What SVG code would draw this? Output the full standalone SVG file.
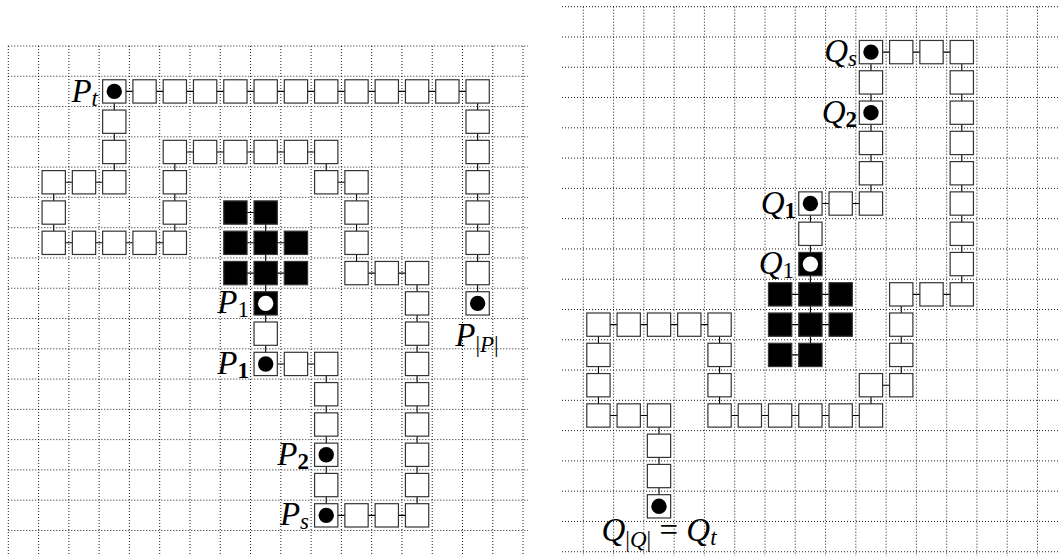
<svg xmlns="http://www.w3.org/2000/svg" xmlns:xlink="http://www.w3.org/1999/xlink" width="1059" height="556" viewBox="0 0 1059 556">
<style>
.grid{fill:none;stroke:#000;stroke-width:0.9;stroke-dasharray:1 2}
.conn{fill:none;stroke:#000;stroke-width:1.1}
.lbl{font-family:"Liberation Serif",serif;font-style:italic;font-size:33px;fill:#000}
.sub{font-size:23px}
.up{font-style:normal}
.bf{font-weight:bold;font-style:normal}
</style>
<defs>
<rect id="W" x="-11.65" y="-11.65" width="23.3" height="23.3" fill="#fff" stroke="#333" stroke-width="1.2"/>
<rect id="K" x="-11.65" y="-11.65" width="23.3" height="23.3" fill="#000" stroke="#333" stroke-width="1.2"/>
<circle id="D" r="7.7" fill="#000"/>
<circle id="O" r="7.7" fill="#fff"/>
</defs>
<rect width="1059" height="556" fill="#fff"/>
<g id="grid-left" class="grid">
<path d="M8.3 46V556M38.58 46V556M68.86 46V556M99.14 46V556M129.42 46V556M159.7 46V556M189.98 46V556M220.26 46V556M250.54 46V556M280.82 46V556M311.1 46V556M341.38 46V556M371.66 46V556M401.94 46V556M432.22 46V556M462.5 46V556M492.78 46V556M523.06 46V556"/>
<path d="M8.3 46H528M8.3 76.28H528M8.3 106.56H528M8.3 136.84H528M8.3 167.12H528M8.3 197.4H528M8.3 227.68H528M8.3 257.96H528M8.3 288.24H528M8.3 318.52H528M8.3 348.8H528M8.3 379.08H528M8.3 409.36H528M8.3 439.64H528M8.3 469.92H528M8.3 500.2H528M8.3 530.48H528"/>
</g>
<g id="grid-right" class="grid">
<path d="M583.3 6.7V556M613.58 6.7V556M643.86 6.7V556M674.14 6.7V556M704.42 6.7V556M734.7 6.7V556M764.98 6.7V556M795.26 6.7V556M825.54 6.7V556M855.82 6.7V556M886.1 6.7V556M916.38 6.7V556M946.66 6.7V556M976.94 6.7V556M1007.22 6.7V556M1037.5 6.7V556"/>
<path d="M562 6.7H1059M562 36.98H1059M562 67.26H1059M562 97.54H1059M562 127.82H1059M562 158.1H1059M562 188.38H1059M562 218.66H1059M562 248.94H1059M562 279.22H1059M562 309.5H1059M562 339.78H1059M562 370.06H1059M562 400.34H1059M562 430.62H1059M562 460.9H1059M562 491.18H1059M562 521.46H1059M562 551.74H1059"/>
</g>
<g id="connectors" class="conn">
<polyline points="477.64,303.38 477.64,91.42 114.28,91.42 114.28,182.26 53.72,182.26 53.72,242.82 174.84,242.82 174.84,151.98 326.24,151.98 326.24,182.26 356.52,182.26 356.52,273.1 417.08,273.1 417.08,515.34 326.24,515.34 326.24,363.94 265.68,363.94 265.68,212.54"/>
<path d="M235.4 212.54H265.68M235.4 242.82H295.96M235.4 273.1H295.96"/>
<polyline points="659,506.32 659,415.48 598.44,415.48 598.44,324.64 719.56,324.64 719.56,415.48 870.96,415.48 870.96,385.2 901.24,385.2 901.24,294.36 961.8,294.36 961.8,52.12 870.96,52.12 870.96,203.52 810.4,203.52 810.4,354.92"/>
<path d="M780.12 294.36H840.68M780.12 324.64H840.68M780.12 354.92H810.4"/>
</g>
<g id="left-nodes">
<g id="P_t" transform="translate(114.28,91.42)"><use href="#W"/><use href="#D"/></g>
<g id="L4_1" transform="translate(144.56,91.42)"><use href="#W"/></g>
<g id="L5_1" transform="translate(174.84,91.42)"><use href="#W"/></g>
<g id="L6_1" transform="translate(205.12,91.42)"><use href="#W"/></g>
<g id="L7_1" transform="translate(235.4,91.42)"><use href="#W"/></g>
<g id="L8_1" transform="translate(265.68,91.42)"><use href="#W"/></g>
<g id="L9_1" transform="translate(295.96,91.42)"><use href="#W"/></g>
<g id="L10_1" transform="translate(326.24,91.42)"><use href="#W"/></g>
<g id="L11_1" transform="translate(356.52,91.42)"><use href="#W"/></g>
<g id="L12_1" transform="translate(386.8,91.42)"><use href="#W"/></g>
<g id="L13_1" transform="translate(417.08,91.42)"><use href="#W"/></g>
<g id="L14_1" transform="translate(447.36,91.42)"><use href="#W"/></g>
<g id="L15_1" transform="translate(477.64,91.42)"><use href="#W"/></g>
<g id="L15_2" transform="translate(477.64,121.7)"><use href="#W"/></g>
<g id="L15_3" transform="translate(477.64,151.98)"><use href="#W"/></g>
<g id="L15_4" transform="translate(477.64,182.26)"><use href="#W"/></g>
<g id="L15_5" transform="translate(477.64,212.54)"><use href="#W"/></g>
<g id="L15_6" transform="translate(477.64,242.82)"><use href="#W"/></g>
<g id="L15_7" transform="translate(477.64,273.1)"><use href="#W"/></g>
<g id="P_last" transform="translate(477.64,303.38)"><use href="#W"/><use href="#D"/></g>
<g id="L3_2" transform="translate(114.28,121.7)"><use href="#W"/></g>
<g id="L3_3" transform="translate(114.28,151.98)"><use href="#W"/></g>
<g id="L3_4" transform="translate(114.28,182.26)"><use href="#W"/></g>
<g id="L2_4" transform="translate(84,182.26)"><use href="#W"/></g>
<g id="L1_4" transform="translate(53.72,182.26)"><use href="#W"/></g>
<g id="L1_5" transform="translate(53.72,212.54)"><use href="#W"/></g>
<g id="L1_6" transform="translate(53.72,242.82)"><use href="#W"/></g>
<g id="L2_6" transform="translate(84,242.82)"><use href="#W"/></g>
<g id="L3_6" transform="translate(114.28,242.82)"><use href="#W"/></g>
<g id="L4_6" transform="translate(144.56,242.82)"><use href="#W"/></g>
<g id="L5_6" transform="translate(174.84,242.82)"><use href="#W"/></g>
<g id="L5_5" transform="translate(174.84,212.54)"><use href="#W"/></g>
<g id="L5_4" transform="translate(174.84,182.26)"><use href="#W"/></g>
<g id="L5_3" transform="translate(174.84,151.98)"><use href="#W"/></g>
<g id="L6_3" transform="translate(205.12,151.98)"><use href="#W"/></g>
<g id="L7_3" transform="translate(235.4,151.98)"><use href="#W"/></g>
<g id="L8_3" transform="translate(265.68,151.98)"><use href="#W"/></g>
<g id="L9_3" transform="translate(295.96,151.98)"><use href="#W"/></g>
<g id="L10_3" transform="translate(326.24,151.98)"><use href="#W"/></g>
<g id="L10_4" transform="translate(326.24,182.26)"><use href="#W"/></g>
<g id="L11_4" transform="translate(356.52,182.26)"><use href="#W"/></g>
<g id="L11_5" transform="translate(356.52,212.54)"><use href="#W"/></g>
<g id="L11_6" transform="translate(356.52,242.82)"><use href="#W"/></g>
<g id="L11_7" transform="translate(356.52,273.1)"><use href="#W"/></g>
<g id="L12_7" transform="translate(386.8,273.1)"><use href="#W"/></g>
<g id="L13_7" transform="translate(417.08,273.1)"><use href="#W"/></g>
<g id="L13_8" transform="translate(417.08,303.38)"><use href="#W"/></g>
<g id="L13_9" transform="translate(417.08,333.66)"><use href="#W"/></g>
<g id="L13_10" transform="translate(417.08,363.94)"><use href="#W"/></g>
<g id="L13_11" transform="translate(417.08,394.22)"><use href="#W"/></g>
<g id="L13_12" transform="translate(417.08,424.5)"><use href="#W"/></g>
<g id="L13_13" transform="translate(417.08,454.78)"><use href="#W"/></g>
<g id="L13_14" transform="translate(417.08,485.06)"><use href="#W"/></g>
<g id="L13_15" transform="translate(417.08,515.34)"><use href="#W"/></g>
<g id="L12_15" transform="translate(386.8,515.34)"><use href="#W"/></g>
<g id="L11_15" transform="translate(356.52,515.34)"><use href="#W"/></g>
<g id="P_s" transform="translate(326.24,515.34)"><use href="#W"/><use href="#D"/></g>
<g id="L10_14" transform="translate(326.24,485.06)"><use href="#W"/></g>
<g id="P_2" transform="translate(326.24,454.78)"><use href="#W"/><use href="#D"/></g>
<g id="L10_12" transform="translate(326.24,424.5)"><use href="#W"/></g>
<g id="L10_11" transform="translate(326.24,394.22)"><use href="#W"/></g>
<g id="L10_10" transform="translate(326.24,363.94)"><use href="#W"/></g>
<g id="L9_10" transform="translate(295.96,363.94)"><use href="#W"/></g>
<g id="P_1b" transform="translate(265.68,363.94)"><use href="#W"/><use href="#D"/></g>
<g id="L8_9" transform="translate(265.68,333.66)"><use href="#W"/></g>
<g id="P_1" transform="translate(265.68,303.38)"><use href="#K"/><use href="#O"/></g>
<g id="L7_5" transform="translate(235.4,212.54)"><use href="#K"/></g>
<g id="L8_5" transform="translate(265.68,212.54)"><use href="#K"/></g>
<g id="L7_6" transform="translate(235.4,242.82)"><use href="#K"/></g>
<g id="L8_6" transform="translate(265.68,242.82)"><use href="#K"/></g>
<g id="L9_6" transform="translate(295.96,242.82)"><use href="#K"/></g>
<g id="L7_7" transform="translate(235.4,273.1)"><use href="#K"/></g>
<g id="L8_7" transform="translate(265.68,273.1)"><use href="#K"/></g>
<g id="L9_7" transform="translate(295.96,273.1)"><use href="#K"/></g>
</g>
<g id="right-nodes">
<g id="Q_t" transform="translate(659,506.32)"><use href="#W"/><use href="#D"/></g>
<g id="R2_15" transform="translate(659,476.04)"><use href="#W"/></g>
<g id="R2_14" transform="translate(659,445.76)"><use href="#W"/></g>
<g id="R2_13" transform="translate(659,415.48)"><use href="#W"/></g>
<g id="R1_13" transform="translate(628.72,415.48)"><use href="#W"/></g>
<g id="R0_13" transform="translate(598.44,415.48)"><use href="#W"/></g>
<g id="R0_12" transform="translate(598.44,385.2)"><use href="#W"/></g>
<g id="R0_11" transform="translate(598.44,354.92)"><use href="#W"/></g>
<g id="R0_10" transform="translate(598.44,324.64)"><use href="#W"/></g>
<g id="R1_10" transform="translate(628.72,324.64)"><use href="#W"/></g>
<g id="R2_10" transform="translate(659,324.64)"><use href="#W"/></g>
<g id="R3_10" transform="translate(689.28,324.64)"><use href="#W"/></g>
<g id="R4_10" transform="translate(719.56,324.64)"><use href="#W"/></g>
<g id="R4_11" transform="translate(719.56,354.92)"><use href="#W"/></g>
<g id="R4_12" transform="translate(719.56,385.2)"><use href="#W"/></g>
<g id="R4_13" transform="translate(719.56,415.48)"><use href="#W"/></g>
<g id="R5_13" transform="translate(749.84,415.48)"><use href="#W"/></g>
<g id="R6_13" transform="translate(780.12,415.48)"><use href="#W"/></g>
<g id="R7_13" transform="translate(810.4,415.48)"><use href="#W"/></g>
<g id="R8_13" transform="translate(840.68,415.48)"><use href="#W"/></g>
<g id="R9_13" transform="translate(870.96,415.48)"><use href="#W"/></g>
<g id="R9_12" transform="translate(870.96,385.2)"><use href="#W"/></g>
<g id="R10_12" transform="translate(901.24,385.2)"><use href="#W"/></g>
<g id="R10_11" transform="translate(901.24,354.92)"><use href="#W"/></g>
<g id="R10_10" transform="translate(901.24,324.64)"><use href="#W"/></g>
<g id="R10_9" transform="translate(901.24,294.36)"><use href="#W"/></g>
<g id="R11_9" transform="translate(931.52,294.36)"><use href="#W"/></g>
<g id="R12_9" transform="translate(961.8,294.36)"><use href="#W"/></g>
<g id="R12_8" transform="translate(961.8,264.08)"><use href="#W"/></g>
<g id="R12_7" transform="translate(961.8,233.8)"><use href="#W"/></g>
<g id="R12_6" transform="translate(961.8,203.52)"><use href="#W"/></g>
<g id="R12_5" transform="translate(961.8,173.24)"><use href="#W"/></g>
<g id="R12_4" transform="translate(961.8,142.96)"><use href="#W"/></g>
<g id="R12_3" transform="translate(961.8,112.68)"><use href="#W"/></g>
<g id="R12_2" transform="translate(961.8,82.4)"><use href="#W"/></g>
<g id="R12_1" transform="translate(961.8,52.12)"><use href="#W"/></g>
<g id="R11_1" transform="translate(931.52,52.12)"><use href="#W"/></g>
<g id="R10_1" transform="translate(901.24,52.12)"><use href="#W"/></g>
<g id="Q_s" transform="translate(870.96,52.12)"><use href="#W"/><use href="#D"/></g>
<g id="R9_2" transform="translate(870.96,82.4)"><use href="#W"/></g>
<g id="Q_2" transform="translate(870.96,112.68)"><use href="#W"/><use href="#D"/></g>
<g id="R9_4" transform="translate(870.96,142.96)"><use href="#W"/></g>
<g id="R9_5" transform="translate(870.96,173.24)"><use href="#W"/></g>
<g id="R9_6" transform="translate(870.96,203.52)"><use href="#W"/></g>
<g id="R8_6" transform="translate(840.68,203.52)"><use href="#W"/></g>
<g id="Q_1b" transform="translate(810.4,203.52)"><use href="#W"/><use href="#D"/></g>
<g id="R7_7" transform="translate(810.4,233.8)"><use href="#W"/></g>
<g id="Q_1" transform="translate(810.4,264.08)"><use href="#K"/><use href="#O"/></g>
<g id="R6_9" transform="translate(780.12,294.36)"><use href="#K"/></g>
<g id="R7_9" transform="translate(810.4,294.36)"><use href="#K"/></g>
<g id="R8_9" transform="translate(840.68,294.36)"><use href="#K"/></g>
<g id="R6_10" transform="translate(780.12,324.64)"><use href="#K"/></g>
<g id="R7_10" transform="translate(810.4,324.64)"><use href="#K"/></g>
<g id="R8_10" transform="translate(840.68,324.64)"><use href="#K"/></g>
<g id="R6_11" transform="translate(780.12,354.92)"><use href="#K"/></g>
<g id="R7_11" transform="translate(810.4,354.92)"><use href="#K"/></g>
</g>
<g id="labels" class="lbl">
<text x="98" y="101.5" text-anchor="end">P<tspan class="sub" dy="4">t</tspan></text>
<text x="249" y="313" text-anchor="end">P<tspan class="sub up" dy="4">1</tspan></text>
<text x="249" y="373.5" text-anchor="end">P<tspan class="sub bf" dy="4">1</tspan></text>
<text x="309" y="464.5" text-anchor="end">P<tspan class="sub bf" dy="4">2</tspan></text>
<text x="309" y="525" text-anchor="end">P<tspan class="sub" dy="4">s</tspan></text>
<text x="477" y="346" text-anchor="middle">P<tspan class="sub" dy="6"><tspan class="up">|</tspan>P<tspan class="up">|</tspan></tspan></text>
<text x="857" y="62" text-anchor="end">Q<tspan class="sub" dy="4">s</tspan></text>
<text x="857" y="122.5" text-anchor="end">Q<tspan class="sub bf" dy="4">2</tspan></text>
<text x="796" y="213.5" text-anchor="end">Q<tspan class="sub bf" dy="4">1</tspan></text>
<text x="794" y="274" text-anchor="end">Q<tspan class="sub up" dy="4">1</tspan></text>
<text x="659" y="541" text-anchor="middle">Q<tspan class="sub" dy="6"><tspan class="up">|</tspan>Q<tspan class="up">|</tspan></tspan><tspan class="up" dy="-6"> = </tspan>Q<tspan class="sub" dy="4">t</tspan></text>
</g>
</svg>
